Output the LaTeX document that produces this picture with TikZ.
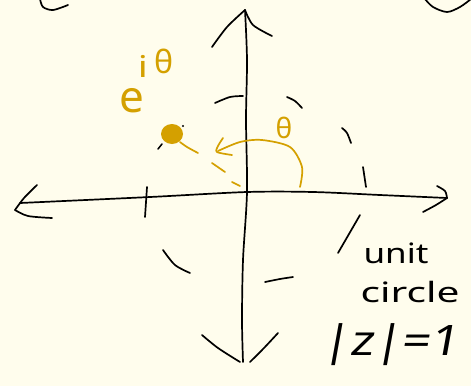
\documentclass[tikz,border=0pt]{standalone}
\usepackage{fontspec}
\setmainfont{Noto Sans}
\definecolor{bg}{RGB}{255,253,237}
\definecolor{gold}{RGB}{212,160,0}
\begin{document}
\begin{tikzpicture}[x=1pt,y=-1pt,
  ink/.style={line width=1.7pt, line cap=round, line join=round, draw=black},
  goldink/.style={ink, draw=gold},
  lbl/.style={inner sep=0pt, anchor=center}]
\fill[bg] (0,0) rectangle (471,386);
\useasboundingbox (0,0) rectangle (471,386);
% corner scribbles
\draw[ink] plot[smooth] coordinates {(40,-1) (43,7) (53,10) (68,5)};
\draw[ink] plot[smooth] coordinates {(425,-1) (433,7) (447,12) (460,7) (471,-1)};
% horizontal axis
\draw[ink] plot[smooth] coordinates {(20,203) (150,197) (247,192) (313,192) (380,195) (447,198)};
\draw[ink] plot[smooth] coordinates {(37,185) (24,198) (15,210)};
\draw[ink] plot[smooth] coordinates {(15,210) (28,216) (52,218)};
\draw[ink] plot[smooth] coordinates {(437,186) (445,191) (447,198)};
\draw[ink] plot[smooth] coordinates {(423,212) (436,205) (447,198)};
% vertical axis
\draw[ink] plot[smooth] coordinates {(245,10) (247,60) (246,120) (247,192) (243,260) (242,320) (243,362)};
\draw[ink] plot[smooth] coordinates {(212,47) (227,27) (245,10)};
\draw[ink] plot[smooth] coordinates {(245,10) (253,25) (272,36)};
\draw[ink] plot[smooth] coordinates {(202,335) (218,348) (240,362)};
\draw[ink] plot[smooth] coordinates {(278,333) (264,348) (250,362)};
% ticks
\draw[ink] (147,187) -- (145,217);
\draw[ink] (363,167) -- (366,187);
% dashed circle
\draw[ink] plot[smooth] coordinates {(215,103) (230,97) (243,96)};
\draw[ink] plot[smooth] coordinates {(287,97) (295,101) (302,108)};
\draw[ink] plot[smooth] coordinates {(342,128) (347,133) (351,143)};
\draw[ink] (360,215) -- (338,253);
\draw[ink] plot[smooth] coordinates {(293,277) (280,279) (265,282)};
\draw[ink] plot[smooth] coordinates {(163,250) (175,265) (190,273)};
% point e^{i theta}
\fill[gold] (172,134) ellipse (11pt and 10pt);
\draw[ink, line width=1.5pt] (158,149) -- (162,144);
\fill[black] (183,126) circle (1.2pt);
\draw[goldink] plot[smooth] coordinates {(180,142) (187,147) (198,153)};
\draw[goldink] (212,163) -- (225,172);
\draw[goldink] (232,182) -- (240,186);
% theta arc
\draw[goldink] plot[smooth] coordinates {(300,187) (302,167) (290,147) (262,140) (240,142) (218,151)};
\draw[goldink] plot[smooth] coordinates {(223,138) (218,146) (217,152) (232,155)};
% labels
\node[lbl, text=gold] (th) at (284,128) {\fontsize{28}{28}\selectfont θ};
\node[lbl, text=gold] (e) at (132,101) {\fontsize{44}{44}\selectfont e};
\node[lbl, text=gold, xscale=1.3] (i) at (143,66) {\fontsize{30}{30}\selectfont i};
\node[lbl, text=gold] (th2) at (164,61) {\fontsize{32}{32}\selectfont θ};
\node[lbl, xscale=1.25] (unit) at (396,253) {\fontsize{28}{28}\selectfont unit};
\node[lbl, xscale=1.45] (circ) at (410,292) {\fontsize{28}{28}\selectfont circle};
\node[lbl, xscale=1.2, xslant=0.15] (mod) at (392,345) {\fontsize{42}{42}\selectfont |z|=1};
\end{tikzpicture}
\end{document}
